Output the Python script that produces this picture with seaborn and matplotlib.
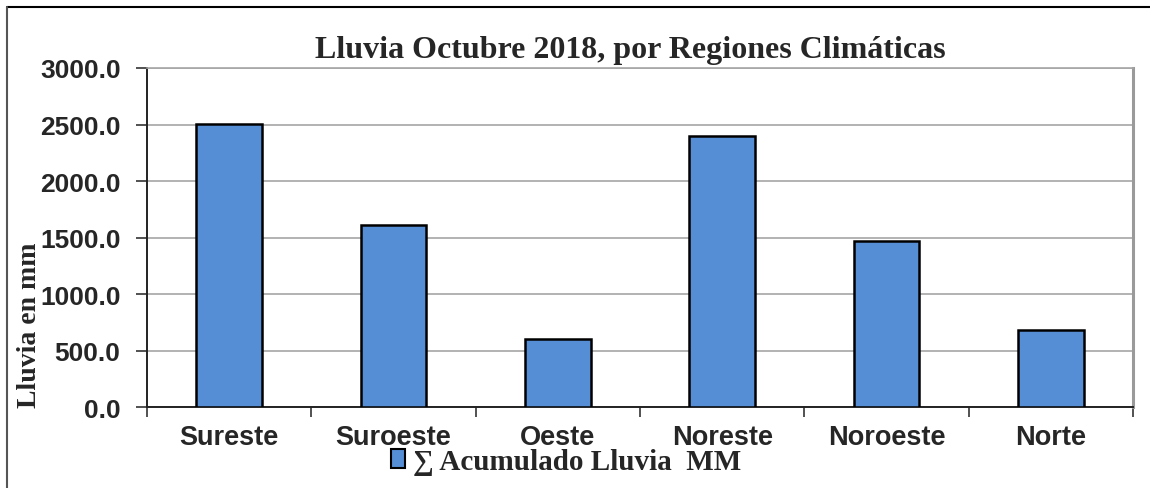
import numpy as np
import pandas as pd
import matplotlib
matplotlib.use("Agg")
import matplotlib.pyplot as plt
from matplotlib.lines import Line2D
from matplotlib.patches import Patch
from matplotlib.ticker import FuncFormatter, FixedLocator
import seaborn as sns

# Data
regiones = ["Sureste", "Suroeste", "Oeste", "Noreste", "Noroeste", "Norte"]
lluvia_mm = [2505, 1615, 600, 2395, 1465, 680]
y_ticks = [0, 500, 1000, 1500, 2000, 2500, 3000]

df = pd.DataFrame({"Region": regiones, "Lluvia": lluvia_mm})

sns.set_style("white")
plt.rcParams["font.family"] = ["Liberation Sans", "DejaVu Sans"]
serif = ["Liberation Serif", "DejaVu Serif"]

fig = plt.figure(figsize=(11.5, 4.89), dpi=100)
ax = fig.add_axes([0.1278, 0.1656, 0.8574, 0.6933])

bar_color = "#558ED5"
sns.barplot(data=df, x="Region", y="Lluvia", color=bar_color, width=0.4,
            edgecolor="black", linewidth=1.8, saturation=1, ax=ax, zorder=3)

ax.set_ylim(0, 3000)
ax.set_xlim(-0.5, len(regiones) - 0.5)
ax.yaxis.set_major_locator(FixedLocator(y_ticks))
ax.yaxis.set_major_formatter(FuncFormatter(lambda v, p: f"{v:.1f}"))
ax.grid(axis="y", color="#a6a6a6", linewidth=1.2, zorder=0)
ax.set_axisbelow(True)

# ticks between categories on the x axis
ax.xaxis.set_minor_locator(FixedLocator(np.arange(-0.5, len(regiones), 1.0)))
ax.tick_params(axis="x", which="major", length=0, pad=12, labelsize=19.5)
ax.tick_params(axis="x", which="minor", length=7, width=1.2, color="#333333", direction="out", bottom=True)
ax.tick_params(axis="y", which="major", length=8, width=1.2, color="#333333", direction="out",
               left=True, pad=11, labelsize=19)
for lab in ax.get_xticklabels() + ax.get_yticklabels():
    lab.set_fontweight("bold")

for side in ["left", "bottom"]:
    ax.spines[side].set_color("#222222")
    ax.spines[side].set_linewidth(1.4)
ax.spines["right"].set_color("#9a9a9a")
ax.spines["right"].set_linewidth(2.2)
ax.spines["top"].set_color("#a6a6a6")
ax.spines["top"].set_linewidth(1.2)

ax.set_xlabel("")
ax.set_ylabel("Lluvia en mm", family=serif, fontsize=20, fontweight="bold")
ax.yaxis.set_label_coords(-0.106, 0.245)

ax.set_title("Lluvia Octubre 2018, por Regiones Climáticas",
             family=serif, fontsize=23, fontweight="bold", pad=8, x=0.49)

handles = [Patch(facecolor=bar_color, edgecolor="black", linewidth=1.5)]
leg = fig.legend(handles, ["∑ Acumulado Lluvia  MM"], loc="center",
                 bbox_to_anchor=(0.492, 0.055), frameon=False,
                 handlelength=0.5, handleheight=0.6, handletextpad=0.25,
                 prop={"family": serif, "size": 21, "weight": "bold"})

# outer frame lines (top and left only visible in reference)
fig.add_artist(Line2D([0.006, 1.0], [0.984, 0.984], color="black", linewidth=1.5,
                      transform=fig.transFigure))
fig.add_artist(Line2D([0.006, 0.006], [0.0, 0.984], color="#555555", linewidth=1.5,
                      transform=fig.transFigure))

fig.savefig("out.png", dpi=100)
